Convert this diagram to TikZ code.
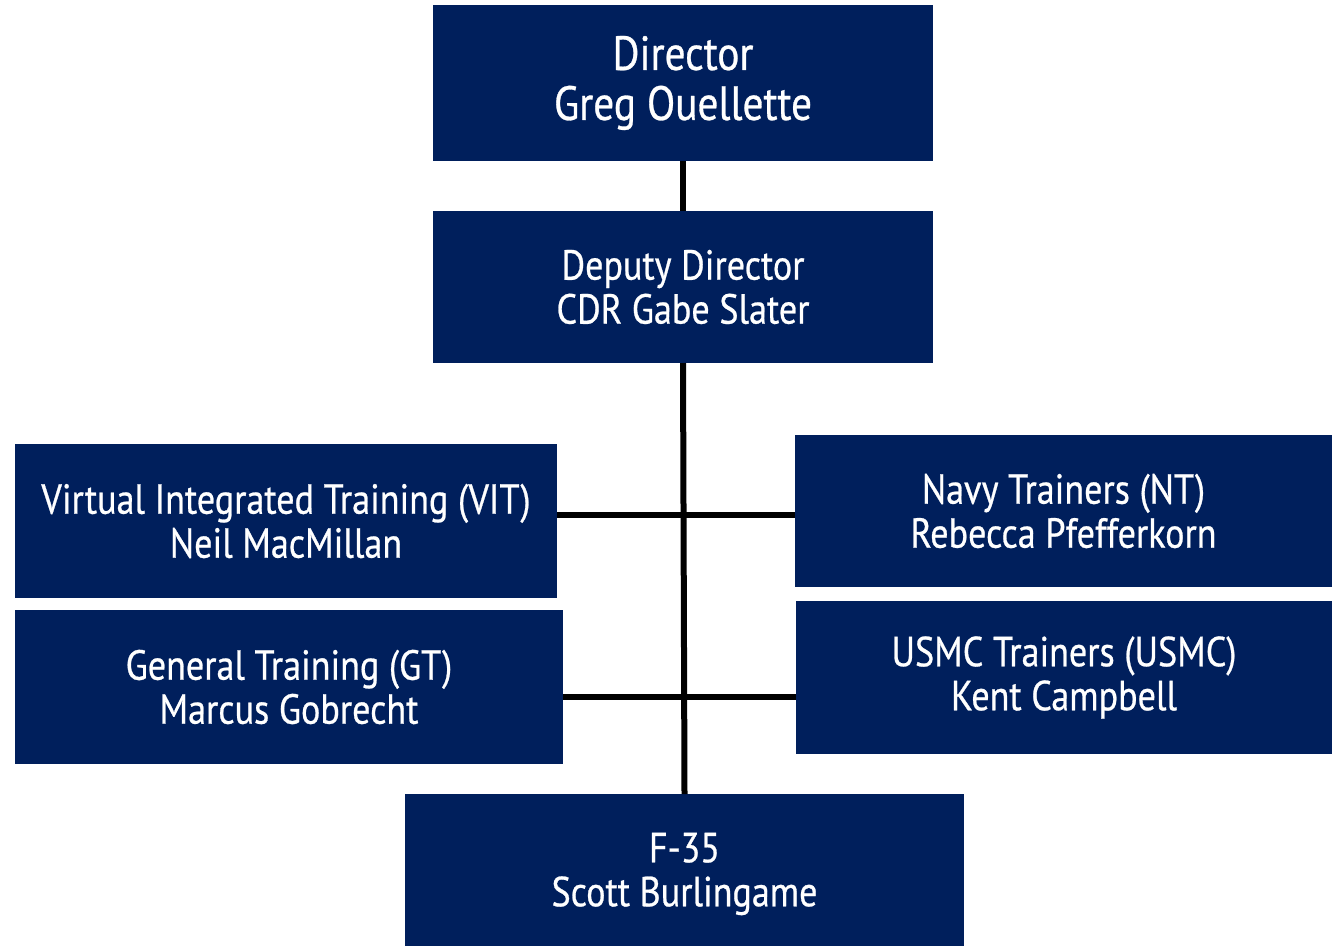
\documentclass[tikz,border=0pt]{standalone}
\usepackage{fontspec}
\setmainfont{PT Sans}[FakeStretch=0.86,FakeBold=0.6]
\definecolor{navy}{HTML}{001F5C}

\begin{document}
\begin{tikzpicture}[x=1pt,y=-1pt,line width=6pt]
    \tikzstyle{unit}=[rectangle,fill=navy,text=white,align=center,inner sep=0pt,outer sep=0pt,font=\fontsize{42}{44}\selectfont]
    \tikzstyle{head}=[unit,font=\fontsize{48}{50}\selectfont]
    \tikzstyle{link}=[draw=black,line cap=butt]

    \useasboundingbox (0,0) rectangle (1332,945);

    % Draw the director and deputy
    \node[head,minimum width=500pt,minimum height=156pt] (dir) at (683,83) {Director\\Greg Ouellette};
    \node[unit,minimum width=500pt,minimum height=152pt] (dep) at (683,287) {Deputy Director\\CDR Gabe Slater};

    % Draw the divisions on both sides
    \node[unit,minimum width=542pt,minimum height=154pt] (vit) at (286,521) {Virtual Integrated Training (VIT)\\Neil MacMillan};
    \node[unit,minimum width=548pt,minimum height=154pt] (gt) at (289,687) {General Training (GT)\\Marcus Gobrecht};
    \node[unit,minimum width=537pt,minimum height=152pt] (nt) at (1063.5,511) {Navy Trainers (NT)\\Rebecca Pfefferkorn};
    \node[unit,minimum width=536pt,minimum height=153pt] (usmc) at (1064,677.5) {USMC Trainers (USMC)\\Kent Campbell};

    % Draw the F-35 office (runs off the bottom edge)
    \node[unit,minimum width=559pt,minimum height=160pt] (f35) at (684.5,874) {F-35\\Scott Burlingame};

    % Connect the chain of command
    \path[link] (dir.south) edge (dep.north);
    \path[link] (dep.south) edge (f35.north);

    % Connect the divisions across the trunk
    \path[link] ([yshift=6pt]vit.east) edge ([yshift=-4pt]nt.west);
    \path[link] ([yshift=-10pt]gt.east) edge ([yshift=-19.5pt]usmc.west);

\end{tikzpicture}
\end{document}
